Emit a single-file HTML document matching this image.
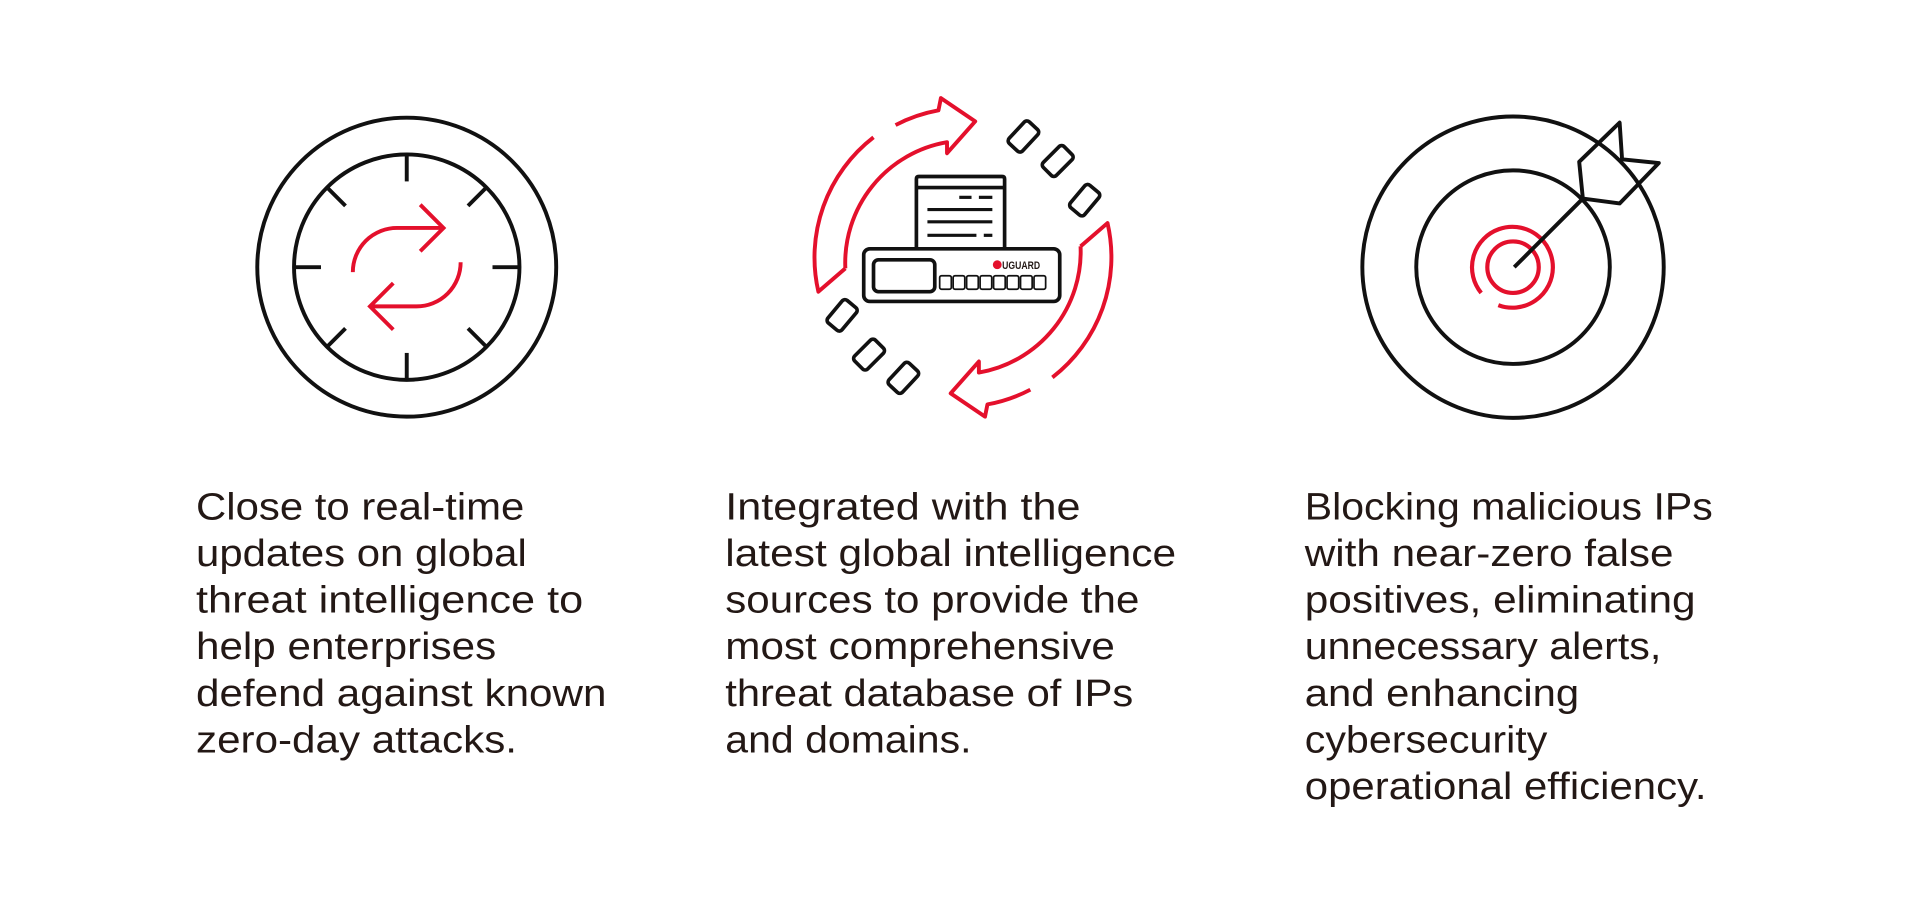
<!DOCTYPE html>
<html><head><meta charset="utf-8"><style>
html,body{margin:0;padding:0;background:#fff;}
svg{display:block;}
text{font-family:"Liberation Sans",sans-serif;fill:#231815;}
</style></head><body>
<svg width="1921" height="908" viewBox="0 0 1568 741" xmlns="http://www.w3.org/2000/svg">
<!-- Clock icon -->
<g fill="none" stroke="#111" stroke-width="3.2">
<circle cx="332" cy="218" r="122"/>
<circle cx="332" cy="218" r="92"/>
<line x1="332" y1="126" x2="332" y2="148"/>
<line x1="332" y1="310" x2="332" y2="288"/>
<line x1="240" y1="218" x2="262" y2="218"/>
<line x1="424" y1="218" x2="402" y2="218"/>
<line x1="267" y1="153" x2="282" y2="168"/>
<line x1="397" y1="153" x2="382" y2="168"/>
<line x1="267" y1="283" x2="282" y2="268"/>
<line x1="397" y1="283" x2="382" y2="268"/>
</g>
<g fill="none" stroke="#e4102c" stroke-width="3.2">
<path d="M288,222 A36,36 0 0 1 324,186 L362,186"/>
<path d="M343,167 L362,186 L343,205"/>
<g transform="rotate(180 332 218)">
<path d="M288,222 A36,36 0 0 1 324,186 L362,186"/>
<path d="M343,167 L362,186 L343,205"/>
</g>
</g>
<!-- Middle icon -->
<g fill="none" stroke="#e4102c" stroke-width="3.2" stroke-linejoin="round">
<path d="M690,219 L668,238 A124,124 0 0 1 713,112"/>
<path d="M731,102 A124,124 0 0 1 766,90 L768,80 L796,99 L773,125 L773,116 A100,100 0 0 0 690,219"/>
<g transform="rotate(180 786 210)">
<path d="M690,219 L668,238 A124,124 0 0 1 713,112"/>
<path d="M731,102 A124,124 0 0 1 766,90 L768,80 L796,99 L773,125 L773,116 A100,100 0 0 0 690,219"/>
</g>
</g>
<g fill="none" stroke="#111" stroke-width="3">
<rect x="823" y="104" width="24" height="15" rx="3" transform="rotate(-47 835 111)"/>
<rect x="851" y="124" width="24" height="15" rx="3" transform="rotate(-45 863 131)"/>
<rect x="873" y="156" width="24" height="15" rx="3" transform="rotate(-50 885 163)"/>
<rect x="725" y="301" width="24" height="15" rx="3" transform="rotate(-47 737 308)"/>
<rect x="697" y="282" width="24" height="15" rx="3" transform="rotate(-45 709 289)"/>
<rect x="675" y="250" width="24" height="15" rx="3" transform="rotate(-50 687 257)"/>
<path d="M748,203 L748,146 Q748,144 750,144 L818,144 Q820,144 820,146 L820,203"/>
<line x1="748" y1="153" x2="820" y2="153"/>
<rect x="705" y="203" width="160" height="43" rx="5"/>
<rect x="713" y="212" width="50" height="26" rx="4"/>
</g>
<g stroke="#111" stroke-width="2.6">
<line x1="783" y1="161" x2="793" y2="161"/><line x1="799" y1="161" x2="810" y2="161"/>
<line x1="757" y1="171" x2="810" y2="171"/>
<line x1="757" y1="181" x2="810" y2="181"/>
<line x1="757" y1="192" x2="797" y2="192"/><line x1="803" y1="192" x2="810" y2="192"/>
</g>
<g fill="none" stroke="#111" stroke-width="1.4">
<rect x="767" y="225" width="9.5" height="11" rx="1.5"/>
<rect x="778" y="225" width="9.5" height="11" rx="1.5"/>
<rect x="789" y="225" width="9.5" height="11" rx="1.5"/>
<rect x="800" y="225" width="9.5" height="11" rx="1.5"/>
<rect x="811" y="225" width="9.5" height="11" rx="1.5"/>
<rect x="822" y="225" width="9.5" height="11" rx="1.5"/>
<rect x="833" y="225" width="9.5" height="11" rx="1.5"/>
<rect x="844" y="225" width="9.5" height="11" rx="1.5"/>
</g>
<circle cx="814" cy="216" r="3.6" fill="#e4102c"/>
<text x="818" y="219.5" style="font-size:9px;font-weight:bold" textLength="31" lengthAdjust="spacingAndGlyphs">UGUARD</text>
<!-- Target icon -->
<g fill="none" stroke="#111" stroke-width="3.2">
<circle cx="1235" cy="218" r="123"/>
<circle cx="1235" cy="218" r="79"/>
</g>
<g fill="none" stroke="#e4102c" stroke-width="3.4">
<circle cx="1235" cy="218" r="21"/>
<path d="M1209,239 A33,33 0 1 1 1223,249"/>
</g>
<g fill="none" stroke="#111" stroke-width="3.2" stroke-linejoin="round">
<line x1="1236" y1="218" x2="1292" y2="162"/>
<path d="M1289,132 L1322,100 L1324,130 L1354,133 L1322,166 L1292,162 Z"/>
</g>
<!-- Text -->
<g style="font-size:31px">
<text x="160" y="424" textLength="268" lengthAdjust="spacingAndGlyphs">Close to real-time</text>
<text x="160" y="462" textLength="270" lengthAdjust="spacingAndGlyphs">updates on global</text>
<text x="160" y="500" textLength="316" lengthAdjust="spacingAndGlyphs">threat intelligence to</text>
<text x="160" y="538" textLength="245" lengthAdjust="spacingAndGlyphs">help enterprises</text>
<text x="160" y="576" textLength="335" lengthAdjust="spacingAndGlyphs">defend against known</text>
<text x="160" y="614" textLength="262" lengthAdjust="spacingAndGlyphs">zero-day attacks.</text>

<text x="592" y="424" textLength="290" lengthAdjust="spacingAndGlyphs">Integrated with the</text>
<text x="592" y="462" textLength="368" lengthAdjust="spacingAndGlyphs">latest global intelligence</text>
<text x="592" y="500" textLength="338" lengthAdjust="spacingAndGlyphs">sources to provide the</text>
<text x="592" y="538" textLength="318" lengthAdjust="spacingAndGlyphs">most comprehensive</text>
<text x="592" y="576" textLength="333" lengthAdjust="spacingAndGlyphs">threat database of IPs</text>
<text x="592" y="614" textLength="201" lengthAdjust="spacingAndGlyphs">and domains.</text>

<text x="1065" y="424" textLength="333" lengthAdjust="spacingAndGlyphs">Blocking malicious IPs</text>
<text x="1065" y="462" textLength="301" lengthAdjust="spacingAndGlyphs">with near-zero false</text>
<text x="1065" y="500" textLength="319" lengthAdjust="spacingAndGlyphs">positives, eliminating</text>
<text x="1065" y="538" textLength="291" lengthAdjust="spacingAndGlyphs">unnecessary alerts,</text>
<text x="1065" y="576" textLength="224" lengthAdjust="spacingAndGlyphs">and enhancing</text>
<text x="1065" y="614" textLength="198" lengthAdjust="spacingAndGlyphs">cybersecurity</text>
<text x="1065" y="652" textLength="328" lengthAdjust="spacingAndGlyphs">operational efficiency.</text>
</g>
</svg>
</body></html>
